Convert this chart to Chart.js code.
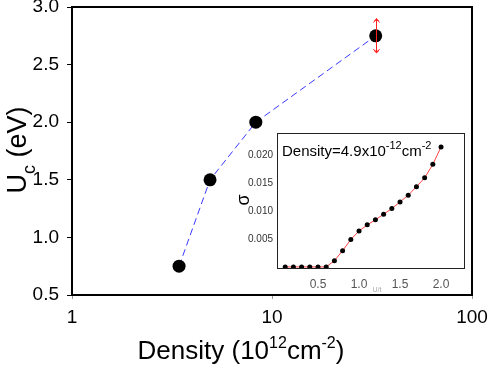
<!DOCTYPE html>
<html><head><meta charset="utf-8">
<script src="https://cdn.jsdelivr.net/npm/chart.js@4/dist/chart.umd.min.js"></script>
<style>
html,body{margin:0;padding:0;background:#fff;}
#wrap{position:relative;width:491px;height:369px;overflow:hidden;}
#main{position:absolute;left:0;top:0;}
#inset{position:absolute;left:236px;top:127px;}
</style></head><body>
<div id="wrap"><canvas id="main" width="491" height="369"></canvas><canvas id="inset" width="235" height="167"></canvas></div>
<script>
// ---- main data ----
const densities = [3.43, 4.9, 8.3, 33];
const ucValues = [0.75, 1.5, 2.0, 2.75];
const ucErrors = [0, 0, 0, 0.15];
const xTickValues = [1, 10, 100];
const yTickValues = [0.5, 1.0, 1.5, 2.0, 2.5, 3.0];
// ---- inset data ----
const insetU = [0.1,0.2,0.3,0.4,0.5,0.6,0.7,0.8,0.9,1.0,1.1,1.2,1.3,1.4,1.5,1.6,1.7,1.8,1.9,2.0];
const insetSigma = [0,0,0,0,0,0,0.0011,0.0029,0.0049,0.0064,0.0075,0.0084,0.0094,0.0104,0.0116,0.0128,0.0143,0.0159,0.0183,0.0214];
const insetXTicks = [0.5, 1.0, 1.5, 2.0];
const insetYTicks = [0.005, 0.010, 0.015, 0.020];

const FONT = "'Liberation Sans', Arial, sans-serif";

function drawRich(ctx, parts, x, y, align) {
  let total = 0;
  parts.forEach(p => { ctx.font = p[1] + 'px ' + FONT; total += ctx.measureText(p[0]).width; });
  let cx = align === 'center' ? x - total / 2 : x;
  ctx.textAlign = 'left';
  ctx.textBaseline = 'alphabetic';
  parts.forEach(p => {
    ctx.font = p[1] + 'px ' + FONT;
    ctx.fillText(p[0], cx, y + p[2]);
    cx += ctx.measureText(p[0]).width;
  });
}

const mainPlugin = {
  id: 'mainExtras',
  afterDatasetsDraw(chart) {
    const ctx = chart.ctx, xs = chart.scales.x, ys = chart.scales.y;
    ctx.save();
    ctx.strokeStyle = '#ff2020';
    ctx.lineWidth = 1;
    densities.forEach((d, i) => {
      const e = ucErrors[i];
      if (!e) return;
      const px = Math.round(xs.getPixelForValue(d)) + 0.5;
      const yt = ys.getPixelForValue(ucValues[i] + e);
      const yb = ys.getPixelForValue(ucValues[i] - e);
      ctx.beginPath();
      ctx.moveTo(px, yt); ctx.lineTo(px, yb);
      ctx.moveTo(px - 3, yt + 4); ctx.lineTo(px, yt); ctx.lineTo(px + 3, yt + 4);
      ctx.moveTo(px - 3, yb - 4); ctx.lineTo(px, yb); ctx.lineTo(px + 3, yb - 4);
      ctx.moveTo(px - 2, yt + 2); ctx.lineTo(px + 2, yt + 2);
      ctx.moveTo(px - 2, yb - 2); ctx.lineTo(px + 2, yb - 2);
      ctx.stroke();
    });
    ctx.restore();
  },
  afterDraw(chart) {
    const ctx = chart.ctx, a = chart.chartArea;
    ctx.save();
    ctx.strokeStyle = '#000';
    ctx.lineWidth = 2;
    ctx.beginPath();
    ctx.moveTo(a.left, a.top); ctx.lineTo(a.right, a.top); ctx.lineTo(a.right, a.bottom);
    ctx.stroke();
    ctx.fillStyle = '#000';
    // x title
    drawRich(ctx, [['Density (10', 26, 0], ['12', 16, -11], ['cm', 26, 0], ['-2', 16, -11], [')', 26, 0]], 241, 359, 'center');
    // y title
    ctx.translate(26, 150);
    ctx.rotate(-Math.PI / 2);
    drawRich(ctx, [['U', 27, 0], ['c', 18, 9], [' (eV)', 27, 0]], 0, 0, 'center');
    ctx.restore();
  }
};

new Chart(document.getElementById('main'), {
  type: 'scatter',
  data: {
    datasets: [{
      data: densities.map((d, i) => ({ x: d, y: ucValues[i] })),
      showLine: true,
      borderColor: '#3838ff',
      borderWidth: 1,
      borderDash: [7, 4],
      pointRadius: 6.5,
      pointBackgroundColor: '#000',
      pointBorderColor: '#000',
      pointBorderWidth: 0
    }]
  },
  options: {
    responsive: false, animation: false, devicePixelRatio: 1,
    layout: { padding: { top: 7, right: 19, left: 0, bottom: 0 } },
    plugins: { legend: { display: false }, tooltip: { enabled: false } },
    scales: {
      x: {
        type: 'logarithmic', min: 1, max: 100,
        afterBuildTicks: s => { s.ticks = xTickValues.map(v => ({ value: v, major: true })); },
        afterFit: s => { s.height = 74; s.paddingLeft = 0; s.paddingRight = 0; },
        ticks: { callback: v => String(v), font: { size: 19, family: FONT }, color: '#000', padding: 7, maxRotation: 0 },
        grid: { drawOnChartArea: false, drawTicks: true, tickLength: 4, color: '#999' },
        border: { display: true, color: '#000', width: 2 }
      },
      y: {
        min: 0.5, max: 3.0,
        afterBuildTicks: s => { s.ticks = yTickValues.map(v => ({ value: v })); },
        afterFit: s => { s.width = 72; s.paddingTop = 0; s.paddingBottom = 0; },
        ticks: { callback: v => v.toFixed(1), font: { size: 19, family: FONT }, color: '#000', padding: 8 },
        grid: { drawOnChartArea: false, drawTicks: true, tickLength: 5, color: '#000' },
        border: { display: true, color: '#000', width: 2 }
      }
    }
  },
  plugins: [mainPlugin]
});

const insetPlugin = {
  id: 'insetExtras',
  afterDraw(chart) {
    const ctx = chart.ctx, a = chart.chartArea;
    ctx.save();
    ctx.strokeStyle = '#222'; ctx.lineWidth = 1;
    ctx.strokeRect(Math.round(a.left) + 0.5, Math.round(a.top) + 0.5, Math.round(a.right - a.left), Math.round(a.bottom - a.top));
    ctx.fillStyle = '#000';
    drawRich(ctx, [['Density=4.9x10', 15, 0], ['-12', 11, -7], ['cm', 15, 0], ['-2', 11, -7]], 46, 29, 'left');
    ctx.save();
    ctx.translate(8, 73); ctx.rotate(-Math.PI / 2);
    ctx.font = '18px ' + FONT; ctx.textAlign = 'center'; ctx.textBaseline = 'middle';
    ctx.fillText('σ', 0, 0);
    ctx.restore();
    ctx.fillStyle = '#aaa'; ctx.font = '7px ' + FONT; ctx.textAlign = 'center'; ctx.textBaseline = 'middle';
    ctx.fillText('U/t', 141, 163);
    ctx.restore();
  }
};

new Chart(document.getElementById('inset'), {
  type: 'scatter',
  data: {
    datasets: [{
      data: insetU.map((u, i) => ({ x: u, y: insetSigma[i] })),
      showLine: true,
      borderColor: '#ff4040',
      borderWidth: 1,
      pointRadius: 2.5,
      pointBackgroundColor: '#000',
      pointBorderColor: '#000',
      pointBorderWidth: 0
    }]
  },
  options: {
    responsive: false, animation: false, devicePixelRatio: 1,
    layout: { padding: { top: 6, right: 7, left: 0, bottom: 0 } },
    plugins: { legend: { display: false }, tooltip: { enabled: false } },
    scales: {
      x: {
        type: 'linear', min: 0, max: 2.28,
        afterBuildTicks: s => { s.ticks = insetXTicks.map(v => ({ value: v })); },
        afterFit: s => { s.height = 26; s.paddingLeft = 0; s.paddingRight = 0; },
        ticks: { callback: v => v.toFixed(1), font: { size: 12, family: FONT }, color: '#555', padding: 9, maxRotation: 0 },
        grid: { display: false, drawTicks: false },
        border: { display: false }
      },
      y: {
        min: -0.0002, max: 0.0239,
        afterBuildTicks: s => { s.ticks = insetYTicks.map(v => ({ value: v })); },
        afterFit: s => { s.width = 41; s.paddingTop = 0; s.paddingBottom = 0; },
        ticks: { callback: v => v.toFixed(3), font: { size: 10, family: FONT }, color: '#333', padding: 4 },
        grid: { display: false, drawTicks: false },
        border: { display: false }
      }
    }
  },
  plugins: [insetPlugin]
});
</script>
</body></html>
